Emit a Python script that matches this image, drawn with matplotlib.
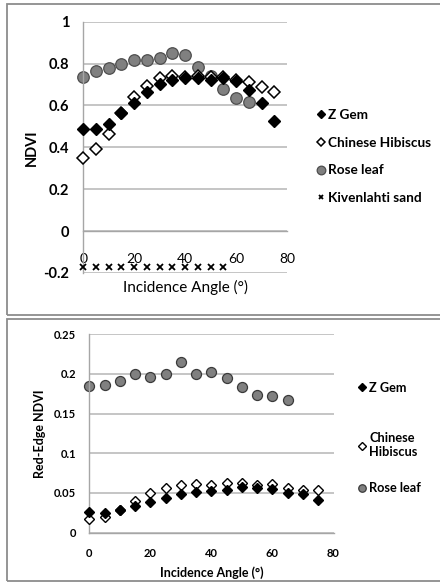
import matplotlib
matplotlib.use("Agg")
import matplotlib.pyplot as plt
from matplotlib.patches import Rectangle

plt.rcParams['font.family'] = ['Lato', 'DejaVu Sans']

# ---------------- data ----------------
angles = [0, 5, 10, 15, 20, 25, 30, 35, 40, 45, 50, 55, 60, 65, 70, 75]

# top panel: NDVI
ndvi_zgem = [0.49, 0.49, 0.51, 0.565, 0.614, 0.665, 0.703, 0.72, 0.732, 0.732, 0.72, 0.73, 0.716, 0.674, 0.61, 0.526]
ndvi_hibiscus = [0.35, 0.39, 0.466, 0.565, 0.64, 0.694, 0.732, 0.74, 0.737, 0.74, 0.737, 0.737, 0.72, 0.71, 0.69, 0.662]
ndvi_rose = [0.734, 0.766, 0.777, 0.80, 0.817, 0.817, 0.825, 0.852, 0.84, 0.785, 0.74, 0.68, 0.638, 0.617]
ndvi_sand = [-0.169] * 12

# bottom panel: Red-Edge NDVI
re_zgem = [0.026, 0.025, 0.028, 0.034, 0.0385, 0.044, 0.049, 0.0515, 0.052, 0.053, 0.057, 0.056, 0.055, 0.050, 0.048, 0.041]
re_hibiscus = [0.017, 0.019, 0.028, 0.040, 0.050, 0.056, 0.060, 0.0615, 0.060, 0.0625, 0.063, 0.060, 0.061, 0.056, 0.054, 0.053]
re_rose = [0.185, 0.186, 0.191, 0.200, 0.196, 0.200, 0.215, 0.200, 0.202, 0.195, 0.183, 0.173, 0.172, 0.167]

top_yticks = [-0.2, 0, 0.2, 0.4, 0.6, 0.8, 1]
top_yticklabels = ['-0.2', '0', '0.2', '0.4', '0.6', '0.8', '1']
bot_yticks = [0, 0.05, 0.1, 0.15, 0.2, 0.25]
bot_yticklabels = ['0', '0.05', '0.1', '0.15', '0.2', '0.25']
xticks = [0, 20, 40, 60, 80]

W, H = 440, 582
fig = plt.figure(figsize=(W / 100, H / 100), dpi=100)

GRID = '#c0c0c0'
AX = '#a6a6a6'

def px_axes(l, t, r, b):
    return [l / W, 1 - b / H, (r - l) / W, (b - t) / H]

# frames around panels
for (l, t, r, b) in [(7, 4, 446, 315), (7, 319, 446, 581)]:
    fig.add_artist(Rectangle((l / W, 1 - b / H), (r - l) / W, (b - t) / H,
                             transform=fig.transFigure, fill=False,
                             edgecolor='#8c8c8c', linewidth=1.3))

def style(ax, ylim, yticks, yticklabels, fs, xpad, ypad):
    ax.set_xlim(0, 80)
    ax.set_ylim(*ylim)
    ax.set_xticks(xticks)
    ax.set_xticklabels([str(v) for v in xticks], fontsize=fs, fontweight='bold')
    ax.set_yticks(yticks)
    ax.set_yticklabels(yticklabels, fontsize=fs, fontweight='bold')
    ax.tick_params(axis='both', length=0)
    ax.tick_params(axis='x', pad=xpad)
    ax.tick_params(axis='y', pad=ypad)
    ax.grid(axis='y', color=GRID, linewidth=1.3)
    ax.set_axisbelow(True)
    for s in ['top', 'right']:
        ax.spines[s].set_visible(False)
    ax.spines['left'].set_color(AX)
    ax.spines['bottom'].set_color(AX)
    ax.spines['left'].set_linewidth(1.0)
    ax.spines['bottom'].set_linewidth(1.0)

# ---------------- top panel ----------------
ax1 = fig.add_axes(px_axes(83.3, 21.7, 287, 273))
style(ax1, (-0.2, 1), top_yticks, top_yticklabels, 10.5, 15.5, 10)
ax1.spines['bottom'].set_position(('data', 0))

l1, = ax1.plot(angles, ndvi_zgem, linestyle='none', marker='D', ms=6.0,
               mfc='black', mec='black', clip_on=False, label='Z Gem', zorder=4)
l2, = ax1.plot(angles, ndvi_hibiscus, linestyle='none', marker='D', ms=6.0,
               mfc='white', mec='black', mew=1.1, clip_on=False, label='Chinese Hibiscus', zorder=3)
l3, = ax1.plot(angles[:len(ndvi_rose)], ndvi_rose, linestyle='none', marker='o', ms=8.3,
               mfc='#808080', mec='#4d4d4d', mew=0.9, clip_on=False, label='Rose leaf', zorder=2)
l4, = ax1.plot(angles[:len(ndvi_sand)], ndvi_sand, linestyle='none', marker='x', ms=4,
               mec='black', mew=1.3, clip_on=False, label='Kivenlahti sand', zorder=4)

ax1.set_ylabel('NDVI', fontsize=10.5, fontweight='bold')
ax1.yaxis.set_label_coords((39 - 83.3) / (287 - 83.3), 0.5)
ax1.set_xlabel('Incidence Angle (°)', fontsize=11)
ax1.xaxis.set_label_coords(0.5, (273 - 280) / (273 - 21.7))

fig.legend(handles=[l1, l2, l3, l4], loc='upper left',
           bbox_to_anchor=(317.5 / W, 1 - 109 / H), frameon=False,
           prop={'size': 9.8, 'weight': 'bold'}, handlelength=0.5,
           handletextpad=0.25, labelspacing=1.15, borderpad=0,
           borderaxespad=0, numpoints=1, markerscale=0.75)

# ---------------- bottom panel ----------------
ax2 = fig.add_axes(px_axes(89.3, 334.3, 333.5, 532.5))
style(ax2, (0, 0.25), bot_yticks, bot_yticklabels, 8, 11.5, 9.5)

m1, = ax2.plot(angles, re_zgem, linestyle='none', marker='D', ms=5.0,
               mfc='black', mec='black', clip_on=False, label='Z Gem', zorder=4)
m2, = ax2.plot(angles, re_hibiscus, linestyle='none', marker='D', ms=5.0,
               mfc='white', mec='black', mew=1.0, clip_on=False, label='Chinese\nHibiscus', zorder=3)
m3, = ax2.plot(angles[:len(re_rose)], re_rose, linestyle='none', marker='o', ms=7.2,
               mfc='#808080', mec='#3a3a3a', mew=0.9, clip_on=False, label='Rose leaf', zorder=2)

ax2.set_ylabel('Red-Edge NDVI', fontsize=9, fontweight='bold')
ax2.yaxis.set_label_coords((46 - 89.3) / (333.5 - 89.3), 0.5)
ax2.set_xlabel('Incidence Angle (°)', fontsize=9, fontweight='bold')
ax2.xaxis.set_label_coords(0.5, (532.5 - 566) / (532.5 - 334.3))

# one legend box per entry, stacked like the original legend
for h, top in [(m1, 381.5), (m2, 432), (m3, 482)]:
    fig.legend(handles=[h], loc='upper left',
               bbox_to_anchor=(359 / W, 1 - top / H), frameon=False,
               prop={'size': 9.2, 'weight': 'bold'}, handlelength=0.5,
               handletextpad=0.3, borderpad=0, borderaxespad=0,
               numpoints=1, markerscale=0.75)

fig.savefig('out.png', dpi=100)
